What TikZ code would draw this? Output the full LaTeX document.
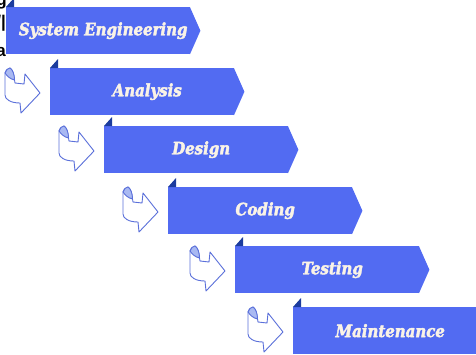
\documentclass[tikz,border=0pt]{standalone}
\usepackage{fontspec}
\newfontfamily\stepfont[FakeStretch=0.88,FakeBold=2.5]{DejaVu Serif}
\newfontfamily\cutfont{Liberation Sans}
\usetikzlibrary{positioning}

\definecolor{stepblue}{HTML}{526BF2}
\definecolor{tabblue}{HTML}{1C3C9E}
\definecolor{iconblue}{HTML}{5B70DA}
\definecolor{curlblue}{HTML}{A9B9F2}
\definecolor{labelcream}{HTML}{FAF3E6}

\tikzset{
  stepbox/.style={fill=stepblue, anchor=north west, inner sep=0pt,
    minimum width=184pt, minimum height=47pt, text=labelcream,
    font=\stepfont\bfseries\itshape\fontsize{17}{17}\selectfont},
  cut/.style={font=\cutfont\bfseries\fontsize{17}{17}\selectfont, inner sep=0pt, anchor=base east},
}

% pointer and folded tab of a step
\newcommand{\stepshape}[1]{%
  \fill[stepblue] ([xshift=-0.5pt]#1.north east) -- ([xshift=10pt]#1.east) -- ([xshift=-0.5pt]#1.south east) -- cycle;
  \fill[tabblue] (#1.north west) -- ([xshift=8pt,yshift=9pt]#1.north west) -- ([xshift=8pt]#1.north west) -- cycle;
}

% curled turn arrow left of a step
\newcommand{\turnicon}[1]{%
  \begin{scope}[shift={([xshift=-45pt,yshift=1pt]#1.north west)}, draw=iconblue, line width=0.9pt, line join=round]
    \filldraw[fill=white] (0,6) -- (0,28) .. controls (0,32) and (5,36) .. (15,36) -- (16,46) -- (35,26)
      -- (20,7) -- (19,17) -- (10,16) .. controls (9.5,15) and (9.5,14) .. (9.5,13)
      .. controls (9,6) and (7,2) .. (5,1) .. controls (2,2) and (0,4) .. (0,6) -- cycle;
    \filldraw[fill=curlblue] (0,6) .. controls (1,3) and (3,1) .. (5,1) .. controls (8,3) and (9.5,8) .. (9.5,13)
      .. controls (5,12) and (2,9) .. (0,6) -- cycle;
  \end{scope}
}

\begin{document}
\begin{tikzpicture}[x=1pt, y=-1pt]
\useasboundingbox (0,0) rectangle (476,354);
\clip (0,0) rectangle (476,354);

% cut-off text at the left edge
\node[cut] (cutg) at (7,5) {g};
\node[cut] (cuts) at (6,27) {/|};
\node[cut] (cuta) at (6,56) {a};

% the steps
\node[stepbox] (syseng) at (6,7) {\hspace*{10pt}System Engineering};
\node[stepbox] (analysis) at (50,68) {\hspace*{10pt}Analysis};
\node[stepbox] (design) at (104,126) {\hspace*{10pt}Design};
\node[stepbox] (coding) at (168,187) {\hspace*{10pt}Coding};
\node[stepbox] (testing) at (235,246) {\hspace*{10pt}Testing};
\node[stepbox] (maint) at (293,307) {\hspace*{10pt}Maintenance};

\stepshape{syseng}
\stepshape{analysis}
\stepshape{design}
\stepshape{coding}
\stepshape{testing}
\stepshape{maint}

\turnicon{analysis}
\turnicon{design}
\turnicon{coding}
\turnicon{testing}
\turnicon{maint}
\end{tikzpicture}
\end{document}
